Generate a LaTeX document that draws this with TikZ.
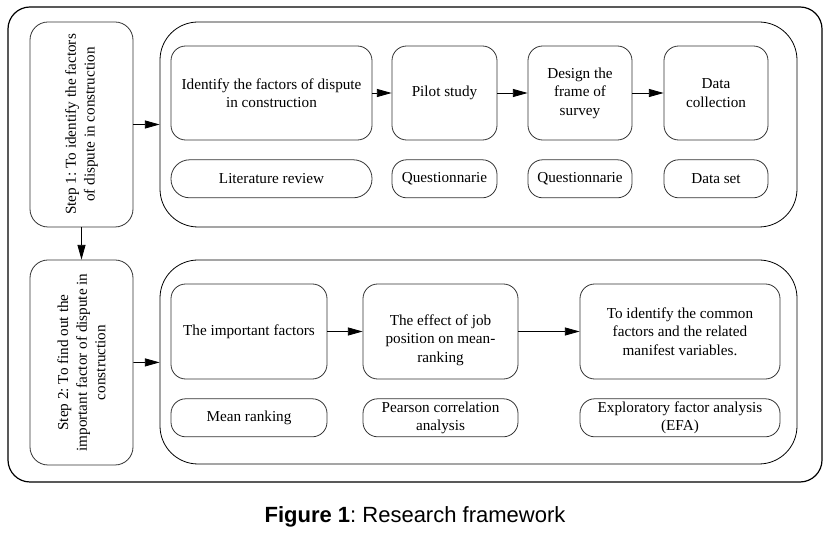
\documentclass[tikz,border=0pt]{standalone}
\usepackage{fontspec}
\setmainfont{Liberation Serif}
\newfontfamily\capfont{Liberation Sans}
\usetikzlibrary{arrows.meta,positioning}
\frenchspacing

\begin{document}
\begin{tikzpicture}[x=0.75pt,y=-0.75pt,>={Triangle[length=11pt,width=6pt]},
  font=\fontsize{11.4}{13.9}\selectfont,
  frame/.style={draw,line width=0.9pt,rounded corners=16.5pt,minimum width=610.5pt,minimum height=356.25pt},
  stepbox/.style={draw=black!80,line width=0.6pt,rounded corners=13.5pt,rotate=90,align=center,minimum width=153.75pt,minimum height=77.25pt,inner sep=2pt},
  panel/.style={draw,line width=0.6pt,rounded corners=28.5pt,minimum width=477.75pt,minimum height=153.75pt},
  task/.style={draw=black!80,line width=0.6pt,rounded corners=11pt,align=center,minimum height=70.5pt,inner sep=2pt},
  tool/.style={draw=black!80,line width=0.6pt,rounded corners=11pt,align=center,minimum height=28.5pt,inner sep=1pt},
  arr/.style={->,line width=0.6pt}]
\useasboundingbox (0,0) rectangle (833,534);
\node[frame] (out) at (415,244.5) {};
% step 1
\node[stepbox] (s1) at (81.5,124.5) {Step 1: To identify the factors\\of dispute in construction};
\node[panel] (p1) at (478.5,124.5) {};
\node[task,minimum width=150.75pt] (id) at (271.5,93) {Identify the factors of dispute\\in construction};
\node[task,minimum width=78.75pt] (pil) at (444.5,93) {Pilot study};
\node[task,minimum width=78pt] (des) at (580,93) {Design the\\frame of\\survey};
\node[task,minimum width=78pt] (dat) at (716,93) {Data\\collection};
\node[tool,minimum width=150.75pt,rounded corners=14pt,below=14.25pt of id] (lit) {Literature review};
\node[tool,minimum width=78.75pt,below=14.25pt of pil] (q1) {Questionnarie};
\node[tool,minimum width=78pt,below=14.25pt of des] (q2) {Questionnarie};
\node[tool,minimum width=78pt,below=14.25pt of dat] (ds) {Data set};
% step 2
\node[stepbox] (s2) at (81.5,362.5) {Step 2: To find out the\\important factor of dispute in\\construction};
\node[panel,minimum height=153pt] (p2) at (478.5,362) {};
\node[task,minimum width=117pt,minimum height=71.25pt] (imp) at (249,331.5) {The important factors};
\node[task,minimum width=116.25pt,minimum height=71.25pt] (eff) at (440.5,331.5) {};
\node[align=center] (efftext) at ([yshift=-6.4pt]eff.center) {The effect of job\\position on mean-\\ranking};
\node[task,minimum width=150pt,minimum height=71.25pt] (com) at (680,331.5) {To identify the common\\factors and the related\\manifest variables.};
\node[tool,minimum width=117pt,below=14.25pt of imp] (mr) {Mean ranking};
\node[tool,minimum width=116.25pt,below=14.25pt of eff] (pc) {Pearson correlation\\analysis};
\node[tool,minimum width=150pt,below=14.25pt of com] (efa) {Exploratory factor analysis\\(EFA)};
% connectors
\draw[arr] (s1) -- (p1);
\draw[arr] (id) -- (pil);
\draw[arr] (pil) -- (des);
\draw[arr] (des) -- (dat);
\draw[arr] (s1) -- (s2);
\draw[arr] (s2) -- (p2);
\draw[arr] (imp) -- (eff);
\draw[arr] (eff) -- (com);
\node[font=\capfont\fontsize{16.5}{18}\selectfont] (cap) at (415,517) {\textbf{Figure 1}: Research framework};
\end{tikzpicture}
\end{document}
